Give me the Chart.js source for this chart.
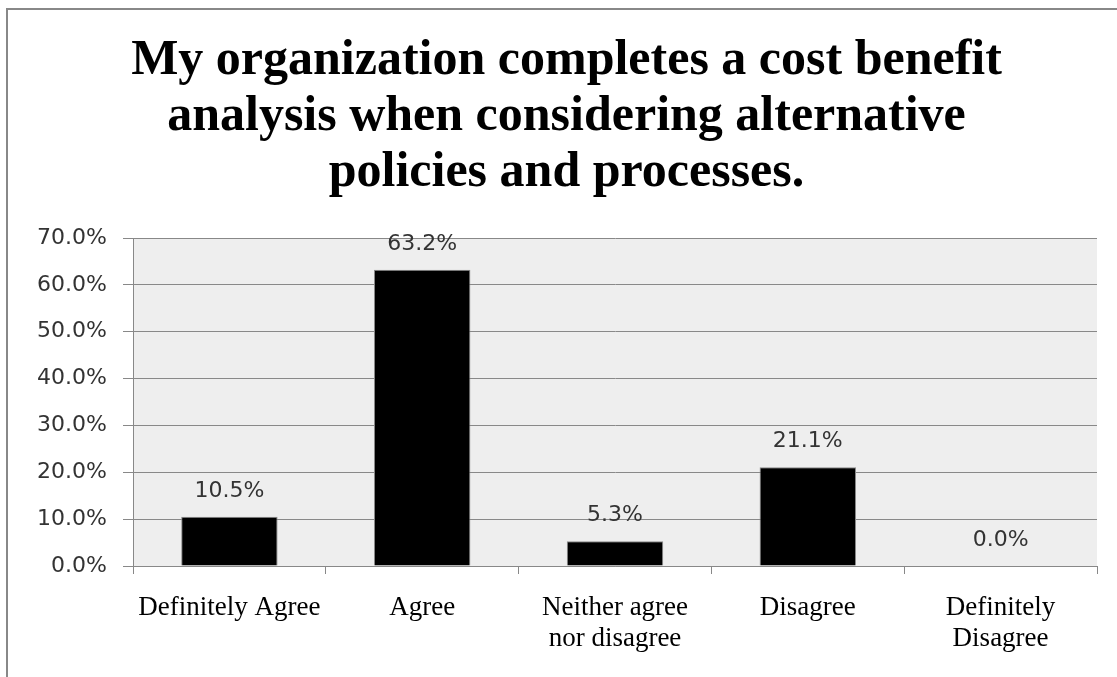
<!DOCTYPE html>
<html>
<head>
<meta charset="utf-8">
<title>Cost benefit analysis survey</title>
<script src="https://cdn.jsdelivr.net/npm/chart.js@4"></script>
<style>
  html, body { margin: 0; padding: 0; background: #fff; }
  #frame {
    position: absolute; left: 6px; top: 8px; right: 0; bottom: 0;
    border-left: 2px solid #888; border-top: 2px solid #888;
  }
  #wrap { position: absolute; left: 0; top: 0; width: 1117px; height: 677px; }
</style>
</head>
<body>
<div id="frame"></div>
<div id="wrap"><canvas id="myChart" width="1117" height="677"></canvas></div>
<script>
// survey answers
var categories = [
  "Definitely Agree",
  "Agree",
  ["Neither agree", "nor disagree"],
  "Disagree",
  ["Definitely", "Disagree"]
]
var percents = [10.5, 63.2, 5.3, 21.1, 0.0]
var titleLines = [
  "My organization completes a cost benefit",
  "analysis when considering alternative",
  "policies and processes."
]
var yMax = 70
var yStep = 10

/* grey plot background */
const plotBg = {
  id: 'plotBg',
  beforeDraw(chart) {
    const a = chart.chartArea
    const ctx = chart.ctx
    ctx.save()
    ctx.fillStyle = '#eeeeee'
    ctx.fillRect(a.left, a.top, a.right - a.left, a.bottom - a.top)
    ctx.restore()
  }
}

/* value labels above each bar */
const barLabels = {
  id: 'barLabels',
  afterDatasetsDraw(chart) {
    const ctx = chart.ctx
    const meta = chart.getDatasetMeta(0)
    ctx.save()
    ctx.font = '22px "DejaVu Sans"'
    ctx.fillStyle = '#333'
    ctx.textAlign = 'center'
    ctx.textBaseline = 'middle'
    meta.data.forEach((bar, i) => {
      ctx.fillText(percents[i].toFixed(1) + '%', bar.x, bar.y - 26)
    })
    ctx.restore()
  }
}

const data = {
  labels: categories,
  datasets: [{
    data: percents,
    backgroundColor: '#000',
    borderColor: '#888',
    borderWidth: 1,
    barPercentage: 0.5,
    categoryPercentage: 1
  }]
}

const config = {
  type: 'bar',
  data: data,
  plugins: [plotBg, barLabels],
  options: {
    responsive: false,
    animation: false,
    layout: { padding: { left: 36, right: 20, top: 0, bottom: 0 } },
    plugins: {
      legend: { display: false },
      tooltip: { enabled: false },
      title: {
        display: true,
        text: titleLines,
        color: '#000',
        font: { family: '"Liberation Serif"', size: 50, weight: 'bold', lineHeight: 1.12 },
        padding: { top: 33, bottom: 37 }
      }
    },
    scales: {
      y: {
        min: 0,
        max: yMax,
        ticks: {
          stepSize: yStep,
          color: '#333',
          padding: 16,
          font: { family: '"DejaVu Sans"', size: 22 },
          callback: (v) => v.toFixed(1) + '%'
        },
        grid: { color: '#888', tickLength: 10 },
        border: { color: '#888' },
        afterFit: (s) => { s.width = 97 }
      },
      x: {
        ticks: {
          color: '#000',
          padding: 19,
          maxRotation: 0,
          autoSkip: false,
          font: { family: '"Liberation Serif"', size: 27, lineHeight: 1.14 }
        },
        grid: { color: '#888', drawOnChartArea: false, tickLength: 8, offset: true },
        border: { color: '#888' },
        afterFit: (s) => { s.height = 111 }
      }
    }
  }
}

const myChart = new Chart(document.getElementById('myChart'), config)
</script>
</body>
</html>
